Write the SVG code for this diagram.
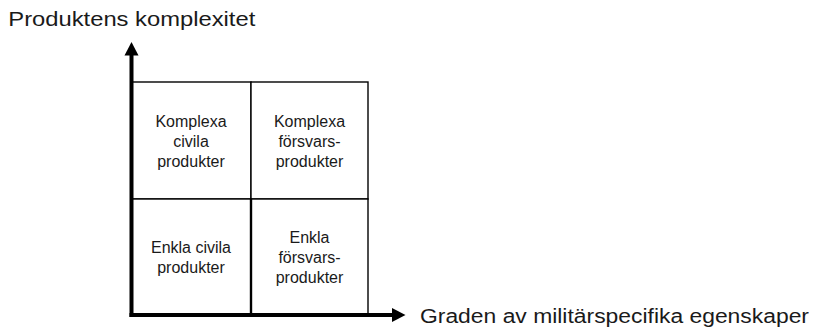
<svg xmlns="http://www.w3.org/2000/svg" width="820" height="327" viewBox="0 0 820 327">
<style>
.cell{fill:#fff;stroke:#000;stroke-width:1.4}
.txt{font-family:"Liberation Sans",Arial,sans-serif;font-size:16px;fill:#1a1a1a;text-anchor:middle}
.lbl{font-family:"Liberation Sans",Arial,sans-serif;font-size:19.5px;fill:#1a1a1a}
.axis{stroke:#000;stroke-width:4;fill:none}
</style>
<rect width="820" height="327" fill="#fff"/>
<text class="lbl" x="8.3" y="25.7" textLength="247" lengthAdjust="spacingAndGlyphs">Produktens komplexitet</text>
<g id="cell-komplexa-civila">
<rect class="cell" x="131.5" y="82" width="119.5" height="117"/>
<text class="txt" x="191" y="126.7">Komplexa</text>
<text class="txt" x="191" y="146.7">civila</text>
<text class="txt" x="191" y="166.7">produkter</text>
</g>
<g id="cell-komplexa-forsvars">
<rect class="cell" x="251" y="82" width="117" height="117"/>
<text class="txt" x="309.5" y="126.7">Komplexa</text>
<text class="txt" x="309.5" y="146.7">försvars-</text>
<text class="txt" x="309.5" y="166.7">produkter</text>
</g>
<g id="cell-enkla-civila">
<rect class="cell" x="131.5" y="199" width="119.5" height="116"/>
<text class="txt" x="191" y="252.7">Enkla civila</text>
<text class="txt" x="191" y="272.7">produkter</text>
</g>
<g id="cell-enkla-forsvars">
<rect class="cell" x="251" y="199" width="117" height="116"/>
<text class="txt" x="309.5" y="243.2">Enkla</text>
<text class="txt" x="309.5" y="263.2">försvars-</text>
<text class="txt" x="309.5" y="283.2">produkter</text>
</g>
<line x1="251" y1="199" x2="251" y2="315" stroke="#000" stroke-width="2.4"/>
<g id="connectors">
<line class="axis" x1="131.5" y1="317" x2="131.5" y2="54"/>
<polygon points="131.5,42 138.5,55.5 124.5,55.5" fill="#000"/>
<line class="axis" x1="129.5" y1="315" x2="393" y2="315"/>
<polygon points="405.5,315 392,308 392,322" fill="#000"/>
</g>
<text class="lbl" x="420" y="323.3" textLength="389" lengthAdjust="spacingAndGlyphs">Graden av militärspecifika egenskaper</text>
</svg>
